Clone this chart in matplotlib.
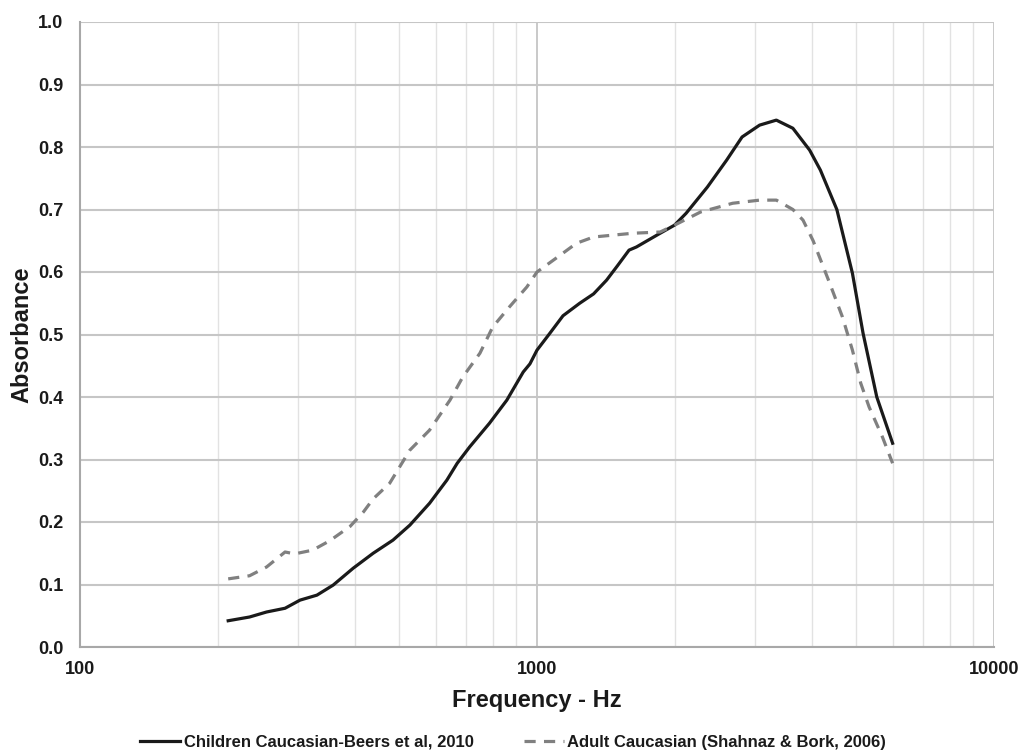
import matplotlib
matplotlib.use("Agg")
import matplotlib.pyplot as plt
from matplotlib.ticker import FixedLocator, NullFormatter, FixedFormatter

# ---- data ----
child_freq = [211, 235, 256, 281, 303, 330, 358, 396, 438, 484, 527, 582, 635, 669,
              712, 787, 859, 933, 965, 1000, 1067, 1140, 1240, 1330, 1420, 1500, 1590,
              1650, 1860, 2000, 2120, 2360, 2600, 2810, 3070, 3340, 3630, 3950, 4170,
              4530, 4900, 5170, 5540, 6000]
child_abs = [0.042, 0.048, 0.056, 0.062, 0.075, 0.083, 0.099, 0.126, 0.150, 0.171,
             0.195, 0.230, 0.267, 0.294, 0.320, 0.358, 0.395, 0.440, 0.453, 0.475,
             0.502, 0.530, 0.550, 0.565, 0.587, 0.610, 0.635, 0.640, 0.662, 0.675,
             0.694, 0.736, 0.779, 0.816, 0.835, 0.843, 0.830, 0.795, 0.763, 0.700,
             0.598, 0.502, 0.400, 0.326]

adult_freq = [211, 235, 256, 281, 295, 323, 352, 390, 417, 438, 476, 527, 582, 645,
              688, 750, 800, 870, 950, 1000, 1110, 1220, 1330, 1620, 1860, 2000, 2280,
              2680, 3070, 3340, 3630, 3820, 4020, 4370, 4660, 4900, 5110, 5330, 5700, 6000]
adult_abs = [0.109, 0.114, 0.128, 0.152, 0.149, 0.155, 0.170, 0.193, 0.216, 0.237,
             0.262, 0.315, 0.347, 0.395, 0.432, 0.470, 0.512, 0.544, 0.576, 0.600,
             0.624, 0.646, 0.656, 0.662, 0.664, 0.675, 0.696, 0.710, 0.715, 0.715,
             0.700, 0.683, 0.650, 0.582, 0.528, 0.475, 0.422, 0.384, 0.336, 0.294]

child_label = "Children Caucasian-Beers et al, 2010"
adult_label = "Adult Caucasian (Shahnaz & Bork, 2006)"
x_ticks = [100, 1000, 10000]
x_tick_labels = ["100", "1000", "10000"]
y_ticks = [0.0, 0.1, 0.2, 0.3, 0.4, 0.5, 0.6, 0.7, 0.8, 0.9, 1.0]

plt.rcParams['font.family'] = ['Liberation Sans', 'DejaVu Sans']
plt.rcParams['font.weight'] = 'bold'

fig = plt.figure(figsize=(10.23, 7.52), dpi=100)
ax = fig.add_axes([80/1023, 105/752, (994-80)/1023, (647-22)/752])

ax.set_xscale('log')
ax.set_xlim(100, 10000)
ax.set_ylim(0, 1.0)

# grid
minor = [m * d for d in (100, 1000) for m in range(2, 10)]
ax.xaxis.set_major_locator(FixedLocator(x_ticks))
ax.xaxis.set_major_formatter(FixedFormatter(x_tick_labels))
ax.xaxis.set_minor_locator(FixedLocator(minor))
ax.xaxis.set_minor_formatter(NullFormatter())
ax.set_yticks(y_ticks)
ax.set_yticklabels([f"{v:.1f}" for v in y_ticks])

ax.grid(True, which='major', axis='y', color='#c6c6c6', lw=1.5)
ax.grid(True, which='major', axis='x', color='#c0c0c0', lw=1.2)
ax.grid(True, which='minor', axis='x', color='#e2e2e2', lw=1.0)
ax.set_axisbelow(True)

for s in ('top', 'right'):
    ax.spines[s].set_visible(False)
for s in ('left', 'bottom'):
    ax.spines[s].set_color('#a8a8a8')
    ax.spines[s].set_linewidth(1.5)

ax.tick_params(axis='both', which='both', length=0, labelsize=13, colors='#1a1a1a')
ax.tick_params(axis='y', pad=12)
ax.tick_params(axis='x', pad=10)

l1, = ax.plot(child_freq, child_abs, color='#1a1a1a', lw=2.3, label=child_label,
              solid_joinstyle='round')
l2, = ax.plot(adult_freq, adult_abs, color='#808080', lw=2.3, ls=(0, (3.5, 2.6)),
              label=adult_label)

ax.set_xlabel("Frequency - Hz", fontsize=17, fontweight='bold', color='#1a1a1a', labelpad=8)
ax.set_ylabel("Absorbance", fontsize=17, fontweight='bold', color='#1a1a1a', labelpad=3)

leg = fig.legend(handles=[l1, l2], loc='center', bbox_to_anchor=(513/1023, 1 - 742/752),
                 ncol=2, frameon=False, fontsize=12, handlelength=2.4, handletextpad=0.2,
                 columnspacing=3.0)
for t in leg.get_texts():
    t.set_fontweight('bold')
    t.set_color('#1a1a1a')

fig.savefig("out.png", dpi=100, facecolor='white')
